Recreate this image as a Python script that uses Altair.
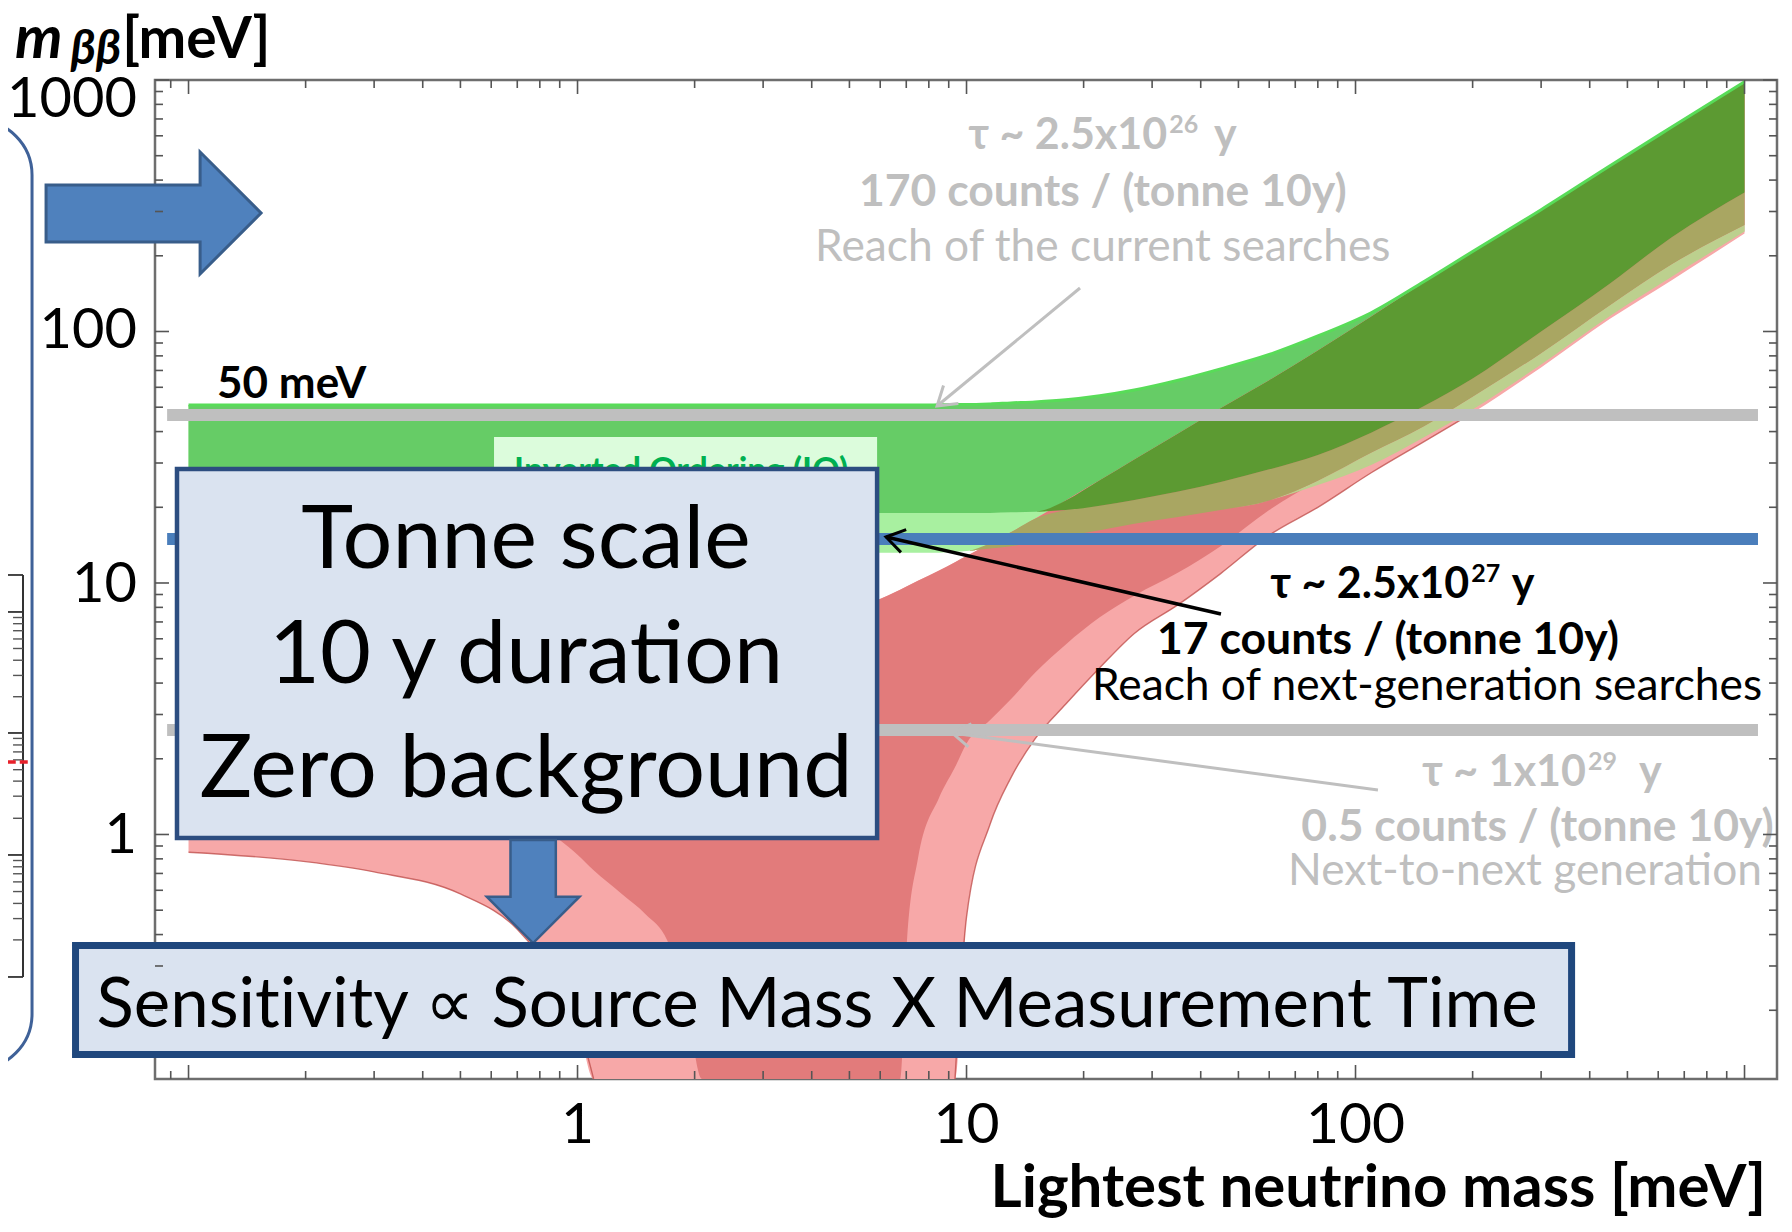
import altair as alt
import numpy as np
import pandas as pd

# ---------------- view geometry ----------------
W, H = 1622, 999
X_DOMAIN = [0.0820, 1212.0]
Y_DOMAIN = [0.1066, 1000.0]
FLOOR = 0.1066
FONT = "Lato"
ZW = "\u200c"  # breaks the "ti" ligature of the font

# ---------------- band edges (meV) ----------------
M = [0.1, 0.2, 0.3, 0.5, 0.7, 0.9, 1.0, 1.1, 1.3, 1.5,
     1.7, 1.9, 2.09, 3, 5, 6.75, 7.03, 7.5, 8.5, 9.34,
     10, 11.5, 13, 15, 18, 22, 27, 35, 45, 60,
     80, 110, 150, 200, 300, 450, 650, 1000]
U_IO = [51, 51, 51, 51, 51, 51, 51, 51, 51, 51,
        51, 51, 51, 51, 51, 51, 51, 51, 51.1, 51.2,
        51.2, 51.5, 52, 52.5, 53.5, 55.5, 58.5, 64, 71, 81,
        96, 119, 158, 208, 305, 455, 650, 985]
L_IO1 = [19, 19, 19, 19, 19, 19, 19, 19, 19, 19,
         19, 19, 19, 19, 19, 19, 19, 19, 19, 19,
         19, 19, 19.1, 19.2, 19.5, 20.3, 21.4, 23.1, 25.2, 28.3,
         32.3, 39.7, 50.5, 65, 100, 155, 237, 357]
L_IO3 = [13.2, 13.2, 13.2, 13.2, 13.2, 13.2, 13.2, 13.2, 13.2, 13.2,
         13.2, 13.2, 13.2, 13.2, 13.2, 13.2, 13.2, 13.2, 13.2, 13.3,
         13.4, 13.7, 14, 14.5, 15.3, 16.2, 17.2, 18.3, 19.5, 21.3,
         24.5, 29.5, 38, 49, 74, 115, 165, 250]
U_NO = [3.8, 3.8, 3.85, 3.95, 4.1, 4.25, 4.3, 4.4, 4.55, 4.7,
        4.85, 5.0, 5.15, 5.9, 7.7, 9.4, 9.7, 10.2, 11.2, 12.1,
        12.8, 14.4, 15.9, 18, 21.3, 25.6, 31, 39.3, 49.5, 64,
        84, 115, 157, 208, 305, 455, 650, 985]
L_NO1 = [1.6, 1.55, 1.5, 1.35, 1.15, 0.95, 0.83, 0.72, 0.58, 0.48,
         0.38, 0.22, FLOOR, FLOOR, FLOOR, FLOOR, 0.38, 0.8, 1.4, 1.85,
         2.3, 2.85, 3.45, 4.4, 5.7, 7.3, 8.9, 11, 14, 19.5,
         25.5, 33, 42, 55, 82, 127, 185, 265]
L_NO3 = [0.85, 0.78, 0.71, 0.58, 0.42, 0.25, 0.18, FLOOR, FLOOR, FLOOR,
         FLOOR, FLOOR, FLOOR, FLOOR, FLOOR, FLOOR, FLOOR, FLOOR, FLOOR, FLOOR,
         0.47, 1.1, 1.68, 2.4, 3.3, 4.6, 6.3, 8.2, 10.9, 15.5,
         20, 27.5, 36.5, 47.5, 72, 112, 160, 245]

C_IO_OUTER = "#a8f0a0"
C_IO_INNER = "#66cc66"
C_NO_OUTER = "#f7a8a8"
C_NO_INNER = "#e27b7b"
C_PINK_LIGHT = "#bcd08e"
C_RED_LIGHT = "#a9a662"
C_RED_GREEN = "#5c9a32"

# ---------------- reach lines ----------------
REACH_V = [46.6, 14.96, 2.60]
REACH_COLOR = ["#bfbfbf", "#4a7ebb", "#bfbfbf"]
REACH_X = [0.0881, 1083.0]

# ---------------- pointer arrows: (m0, v0, m1, v1, color, width, angle) ----------------
POINTERS = [
    (19.58, 148.9, 8.40, 50.55, "#bfbfbf", 3, 140.5),
    (45.1, 7.53, 6.21, 15.24, "#000000", 3.5, 192.9),
    (114.2, 1.503, 9.18, 2.533, "#bfbfbf", 3, 187.6),
]

# ---------------- text annotations (text, m, v[, colour]) ----------------
TAU_MAIN = [("τ ~ 2.5x10", 32.8, 531.6, "#bfbfbf"), ("τ ~ 2.5x10", 196.0, 8.72, "#000000"),
            ("τ ~ 1x10", 391.3, 1.559, "#bfbfbf")]
TAU_SUP = [("26", 32.8, 531.6, "#bfbfbf"), ("27", 196.0, 8.72, "#000000"),
           ("29", 391.3, 1.559, "#bfbfbf")]
TAU_Y = [("y", 43.3, 531.6, "#bfbfbf"), ("y", 252.0, 8.72, "#000000"),
         ("y", 535.6, 1.559, "#bfbfbf")]
COUNTS = [("170 counts / (tonne 10y)", 22.4, 315.5, "#bfbfbf"),
          ("17 counts / (tonne 10y)", 121.2, 5.22, "#000000"),
          ("0.5 counts / (tonne 10y)", 293.8, 0.942, "#bfbfbf")]
REACH_TEXT = [("Reach of the current searches", 22.4, 190.7, "#bfbfbf"),
              ("Reach of next-genera" + ZW + "tion searches", 152.7, 3.43, "#000000"),
              ("Next-to-next genera" + ZW + "tion", 272.8, 0.630, "#bfbfbf")]
LABEL_50 = [("50 meV", 0.1184, 54.4)]
BOX_LINES = [("Tonne scale", 0.737, 11.47), ("10 y dura" + ZW + "tion", 0.737, 4.004),
             ("Zero background", 0.737, 1.409)]
SENS_TEXT = [("Sensit" + ZW + "ivity ∝ Source Mass X Measurement Time", 4.128, 0.1716)]
IO_TEXT = [("Inverted Ordering (IO)", 0.687, 25.3)]

# axis labels and titles (text, m, v)
Y_LABEL_ROWS = [("1000", 0.0737, 712.7), ("100", 0.0737, 86.0), ("10", 0.0737, 8.40),
                ("1", 0.0737, 0.844)]
X_LABEL_ROWS = [("1", 1, 0.0593), ("10", 10, 0.0593), ("100", 100, 0.0593)]
X_TITLE_ROWS = [("Lightest neutrino mass [meV]", 1136, 0.0330)]
Y_TITLE_M = [("m", 0.0358, 1225)]
Y_TITLE_SUB = [("ββ", 0.0497, 1160)]
Y_TITLE_UNIT = [("[meV]", 0.0675, 1225)]

# boxes (x0, x1, y0, y1)
BIG_BOX = [(0.0934, 5.89, 0.969, 28.4)]
IO_BOX = [(0.610, 5.89, 28.4, 38.06)]
SENS_BOX = [(0.05123, 359.3, 0.1334, 0.3620)]
BRACKET = [(0.00555, 0.0396, 0.1168, 693.4)]

RIGHT_ARROW = [(0.0813, 295.9)]
DOWN_ARROW = [(0.769, 0.593)]
RIGHT_ARROW_PATH = "M -1 -0.26 L 0.433 -0.26 L 0.433 -0.567 L 1 0 L 0.433 0.567 L 0.433 0.27 L -1 0.27 Z"
DOWN_ARROW_PATH = "M -0.44 -1 L 0.44 -1 L 0.44 0.1 L 0.9 0.1 L 0 1 L -0.9 0.1 L -0.44 0.1 Z"
HEAD_PATH = "M -1 -0.65 L 0 0 L -1 0.65"

# left-hand fragment of the neighbouring panel
MINI_X = [0.0343, 0.03539, 0.03754, 0.0392]
MINI_V = [0.2713, 10.76]
MINI_RED_V = [1.942]
MINI_MAJOR = [7.67, 2.533, 0.829]
MINI_MINOR = [7.29, 6.89, 6.46, 5.99, 5.49, 4.93, 4.29, 3.53, 2.41, 2.27, 2.13, 1.98,
              1.81, 1.63, 1.42, 1.16, 0.788, 0.744, 0.698, 0.648, 0.593, 0.532, 0.463, 0.381]

# axis ticks
X_MAJOR_TICKS = [0.1, 1, 10, 100, 1000]
X_MINOR_TICKS = [0.09, 0.2, 0.3, 0.4, 0.5, 0.6, 0.7, 0.8, 0.9, 2, 3, 4, 5, 6, 7, 8, 9,
                 20, 30, 40, 50, 60, 70, 80, 90, 200, 300, 400, 500, 600, 700, 800, 900]
Y_MAJOR_TICKS = [1, 10, 100, 1000]
Y_MINOR_TICKS = [0.2, 0.3, 0.4, 0.5, 0.6, 0.7, 0.8, 0.9, 2, 3, 4, 5, 6, 7, 8, 9,
                 20, 30, 40, 50, 60, 70, 80, 90, 200, 300, 400, 500, 600, 700, 800, 900]

# ====================================================================
XS = alt.Scale(type="log", domain=X_DOMAIN, nice=False)
YS = alt.Scale(type="log", domain=Y_DOMAIN, nice=False)


def xenc(f):
    return alt.X(f, type="quantitative", scale=XS, axis=None)


def yenc(f):
    return alt.Y(f, type="quantitative", scale=YS, axis=None)


m = np.array(M)
u_io, l_io1, l_io3 = np.array(U_IO), np.array(L_IO1), np.array(L_IO3)
u_no, l_no1, l_no3 = np.array(U_NO), np.array(L_NO1), np.array(L_NO3)

regions = [
    (l_io3, u_io, C_IO_OUTER),
    (l_io1, u_io, C_IO_INNER),
    (l_no3, u_no, C_NO_OUTER),
    (l_no1, u_no, C_NO_INNER),
    (np.maximum(l_no3, l_io3), np.minimum(l_no1, l_io1), C_PINK_LIGHT),
    (np.maximum(l_no1, l_io3), np.minimum(u_no, l_io1), C_RED_LIGHT),
    (np.maximum(l_no1, l_io1), np.minimum(u_no, u_io), C_RED_GREEN),
]

layers = []
for lo, hi, col in regions:
    df = pd.DataFrame({"m": m, "lo": lo, "hi": np.maximum(hi, lo)})
    layers.append(alt.Chart(df).mark_area(color=col, opacity=1, interpolate="monotone", clip=True)
                  .encode(x=xenc("m"), y=yenc("lo"), y2="hi:Q"))

# edge lines
top_df = pd.DataFrame({"m": m, "v": u_io})
layers.append(alt.Chart(top_df).mark_line(color="#58dc58", strokeWidth=3, interpolate="monotone", clip=True)
              .encode(x=xenc("m"), y=yenc("v")))
edge_df = pd.DataFrame({"m": m, "v": l_no3})
edge_df["branch"] = np.where(edge_df["m"] <= 1.1, "a",
                             np.where((edge_df["m"] >= 9.34) & (edge_df["m"] <= 200), "b", "x"))
edge_df = edge_df[edge_df["branch"] != "x"]
layers.append(alt.Chart(edge_df).mark_line(color="#c0504d", strokeWidth=1.4, opacity=0.8,
                                           interpolate="monotone", clip=True)
              .encode(x=xenc("m"), y=yenc("v"), detail="branch:N"))


def rect_layer(rows, **kw):
    df = pd.DataFrame(rows, columns=["x0", "x1", "y0", "y1"])
    return alt.Chart(df).mark_rect(**kw).encode(x=xenc("x0"), x2="x1:Q", y=yenc("y0"), y2="y1:Q")


def text_layer(rows, color_in_rows=False, **kw):
    cols = ["t", "m", "v", "c"] if color_in_rows else ["t", "m", "v"]
    df = pd.DataFrame(rows, columns=cols)
    base = dict(font=FONT, baseline="alphabetic")
    base.update(kw)
    enc = dict(x=xenc("m"), y=yenc("v"), text="t:N")
    if color_in_rows:
        enc["color"] = alt.Color("c:N", scale=None)
    return alt.Chart(df).mark_text(**base).encode(**enc)


# IO label (mostly hidden by the big box)
layers.append(rect_layer(IO_BOX, color="#dcfcdc"))
layers.append(text_layer(IO_TEXT, fontSize=34, fontWeight="bold", color="#00b050", align="left"))

# reach lines
reach_df = pd.DataFrame({"v": REACH_V, "c": REACH_COLOR, "x0": REACH_X[0], "x1": REACH_X[1]})
layers.append(alt.Chart(reach_df).mark_rule(strokeWidth=12)
              .encode(x=xenc("x0"), x2="x1:Q", y=yenc("v"), color=alt.Color("c:N", scale=None)))

# pointer arrows
pt_df = pd.DataFrame(POINTERS, columns=["m0", "v0", "m1", "v1", "c", "w", "a"])
layers.append(alt.Chart(pt_df).mark_rule()
              .encode(x=xenc("m0"), y=yenc("v0"), x2="m1:Q", y2="v1:Q",
                      color=alt.Color("c:N", scale=None), strokeWidth=alt.StrokeWidth("w:Q", scale=None)))
layers.append(alt.Chart(pt_df).mark_point(shape=HEAD_PATH, size=1296, filled=False, opacity=1, strokeWidth=3)
              .encode(x=xenc("m1"), y=yenc("v1"), color=alt.Color("c:N", scale=None),
                      angle=alt.Angle("a:Q", scale=None)))

# annotation texts
layers.append(text_layer(TAU_MAIN, True, fontSize=43, fontWeight="bold", align="right"))
layers.append(text_layer(TAU_SUP, True, fontSize=25, fontWeight="bold", align="left", dx=2, dy=-16))
layers.append(text_layer(TAU_Y, True, fontSize=43, fontWeight="bold", align="left"))
layers.append(text_layer(COUNTS, True, fontSize=44.5, fontWeight="bold", align="center"))
layers.append(text_layer(REACH_TEXT, True, fontSize=44.3, align="center"))
layers.append(text_layer(LABEL_50, fontSize=44, fontWeight="bold", align="left", color="black"))

# big box
layers.append(rect_layer(BIG_BOX, color="#dae3f0", stroke="#2c4d80", strokeWidth=4.5))
layers.append(text_layer(BOX_LINES, fontSize=88, align="center", color="black"))

# down arrow and sensitivity box
da_df = pd.DataFrame(DOWN_ARROW, columns=["m", "v"])
layers.append(alt.Chart(da_df).mark_point(shape=DOWN_ARROW_PATH, size=10609, filled=True, opacity=1,
                                          color="#4f81bd", stroke="#385d8a", strokeWidth=2.5)
              .encode(x=xenc("m"), y=yenc("v")))
layers.append(rect_layer(SENS_BOX, color="#dae3f0", stroke="#1f477d", strokeWidth=7))
layers.append(text_layer(SENS_TEXT, fontSize=69, align="center", color="black"))

# left decorations
layers.append(rect_layer(BRACKET, fillOpacity=0, stroke="#3f6198", strokeWidth=3, cornerRadius=55))
mini_v_df = pd.DataFrame({"x": [MINI_X[2]], "y0": [MINI_V[0]], "y1": [MINI_V[1]]})
layers.append(alt.Chart(mini_v_df).mark_rule(color="#333333", strokeWidth=2)
              .encode(x=xenc("x"), y=yenc("y0"), y2="y1:Q"))
mini_h_df = pd.DataFrame({"v": MINI_V + MINI_MAJOR, "x0": MINI_X[0], "x1": MINI_X[2]})
layers.append(alt.Chart(mini_h_df).mark_rule(color="#333333", strokeWidth=1.8)
              .encode(x=xenc("x0"), x2="x1:Q", y=yenc("v")))
mini_m_df = pd.DataFrame({"v": MINI_MINOR, "x0": MINI_X[1], "x1": MINI_X[2]})
layers.append(alt.Chart(mini_m_df).mark_rule(color="#555555", strokeWidth=1.4)
              .encode(x=xenc("x0"), x2="x1:Q", y=yenc("v")))
mini_r_df = pd.DataFrame({"v": MINI_RED_V, "x0": MINI_X[0], "x1": MINI_X[3]})
layers.append(alt.Chart(mini_r_df).mark_rule(color="#e8202a", strokeWidth=3.5, strokeDash=[8, 4])
              .encode(x=xenc("x0"), x2="x1:Q", y=yenc("v")))
ra_df = pd.DataFrame(RIGHT_ARROW, columns=["m", "v"])
layers.append(alt.Chart(ra_df).mark_point(shape=RIGHT_ARROW_PATH, size=46225, filled=True, opacity=1,
                                          color="#4f81bd", stroke="#385d8a", strokeWidth=3)
              .encode(x=xenc("m"), y=yenc("v")))

# axis titles and labels
layers.append(text_layer(Y_TITLE_M, fontSize=60, fontWeight="bold", fontStyle="italic",
                         align="left", color="black"))
layers.append(text_layer(Y_TITLE_SUB, fontSize=48, fontWeight="bold", fontStyle="italic",
                         align="left", color="black"))
layers.append(text_layer(Y_TITLE_UNIT, fontSize=57, fontWeight="bold", align="left", color="black"))
layers.append(text_layer(Y_LABEL_ROWS, fontSize=56, align="right", color="black"))
layers.append(text_layer(X_LABEL_ROWS, fontSize=57, align="center", color="black"))
layers.append(text_layer(X_TITLE_ROWS, fontSize=60, fontWeight="bold", align="right", color="black"))

# inward ticks on all four sides
TICK_C = "#555555"
for vals, ln in ((X_MAJOR_TICKS, 14), (X_MINOR_TICKS, 8)):
    tdf = pd.DataFrame({"t": vals})
    layers.append(alt.Chart(tdf).mark_rule(color=TICK_C, strokeWidth=1.6)
                  .encode(x=xenc("t"), y=alt.value(H), y2=alt.value(H - ln)))
    layers.append(alt.Chart(tdf).mark_rule(color=TICK_C, strokeWidth=1.6)
                  .encode(x=xenc("t"), y=alt.value(0), y2=alt.value(ln)))
for vals, ln in ((Y_MAJOR_TICKS, 14), (Y_MINOR_TICKS, 8)):
    tdf = pd.DataFrame({"t": vals})
    layers.append(alt.Chart(tdf).mark_rule(color=TICK_C, strokeWidth=1.6)
                  .encode(y=yenc("t"), x=alt.value(0), x2=alt.value(ln)))
    layers.append(alt.Chart(tdf).mark_rule(color=TICK_C, strokeWidth=1.6)
                  .encode(y=yenc("t"), x=alt.value(W), x2=alt.value(W - ln)))

chart = (
    alt.layer(*layers)
    .properties(width=W, height=H,
                padding={"left": 147, "top": 72, "right": 7, "bottom": 145},
                autosize=alt.AutoSizeParams(type="none"),
                background="white")
    .configure_view(stroke="#6e6e6e", strokeWidth=2.5)
)

chart.save("out.html", embed_options={"renderer": "svg", "actions": False})
